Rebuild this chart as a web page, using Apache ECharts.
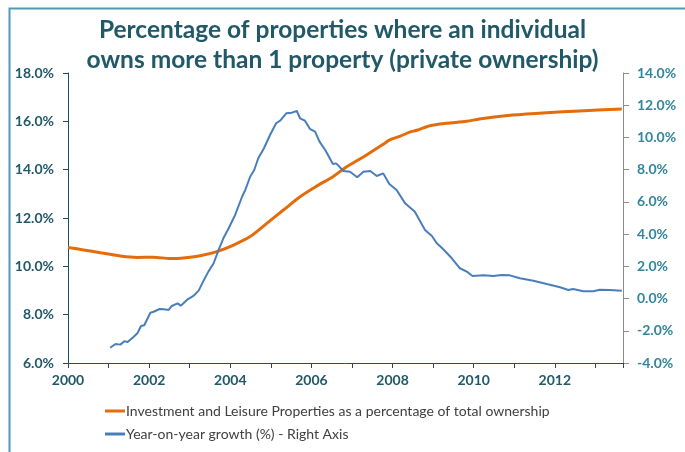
<!DOCTYPE html>
<html>
<head>
<meta charset="utf-8">
<script src="https://cdn.jsdelivr.net/npm/echarts@6/dist/echarts.min.js"></script>
<style>html,body{margin:0;padding:0;background:#fff}#c{width:685px;height:452px}</style>
</head>
<body>
<div id="c"></div>
<script>
var titleText = 'Percentage of properties where an individual\nowns more than 1 property (private ownership)';
var seriesNames = ['Investment and Leisure Properties as a percentage of total ownership', 'Year-on-year growth (%) - Right Axis'];
var leftTicks = [6, 8, 10, 12, 14, 16, 18];
var rightTicks = [-4, -2, 0, 2, 4, 6, 8, 10, 12, 14];
var yearLabels = [2000, 2002, 2004, 2006, 2008, 2010, 2012];

var orangeYears = [2000.00, 2000.38, 2000.80, 2001.29, 2001.70, 2002.10, 2002.52, 2002.90, 2003.26, 2003.67, 2004.08, 2004.49, 2004.90, 2005.31, 2005.72, 2006.13, 2006.54, 2006.79, 2006.95, 2007.36, 2007.77, 2007.93, 2008.18, 2008.42, 2008.60, 2008.92, 2009.32, 2009.83, 2010.14, 2010.96, 2011.79, 2012.61, 2013.65];
var orangeValues = [10.78, 10.68, 10.56, 10.43, 10.37, 10.38, 10.32, 10.36, 10.44, 10.61, 10.88, 11.23, 11.78, 12.33, 12.88, 13.32, 13.72, 14.03, 14.20, 14.61, 15.05, 15.23, 15.38, 15.55, 15.63, 15.82, 15.92, 16.00, 16.10, 16.26, 16.36, 16.43, 16.51];

var blueYears = [2001.04, 2001.17, 2001.29, 2001.39, 2001.47, 2001.62, 2001.71, 2001.80, 2001.88, 2002.03, 2002.11, 2002.26, 2002.37, 2002.48, 2002.56, 2002.70, 2002.78, 2002.95, 2003.09, 2003.22, 2003.34, 2003.46, 2003.59, 2003.71, 2003.83, 2003.96, 2004.12, 2004.29, 2004.37, 2004.49, 2004.59, 2004.69, 2004.83, 2004.98, 2005.13, 2005.23, 2005.38, 2005.52, 2005.64, 2005.72, 2005.84, 2005.97, 2006.09, 2006.20, 2006.34, 2006.53, 2006.61, 2006.79, 2006.95, 2007.13, 2007.28, 2007.45, 2007.61, 2007.77, 2007.92, 2008.10, 2008.31, 2008.55, 2008.80, 2008.97, 2009.09, 2009.25, 2009.46, 2009.66, 2009.83, 2009.97, 2010.24, 2010.48, 2010.69, 2010.89, 2011.14, 2011.47, 2011.80, 2012.13, 2012.33, 2012.45, 2012.70, 2012.95, 2013.11, 2013.35, 2013.65];
var blueValues = [-3.05, -2.82, -2.86, -2.65, -2.70, -2.37, -2.16, -1.70, -1.66, -0.88, -0.82, -0.65, -0.67, -0.71, -0.46, -0.30, -0.44, -0.05, 0.16, 0.49, 1.10, 1.67, 2.19, 3.01, 3.74, 4.36, 5.19, 6.32, 6.74, 7.56, 7.98, 8.71, 9.33, 10.15, 10.88, 11.04, 11.50, 11.54, 11.64, 11.19, 11.04, 10.51, 10.36, 9.74, 9.22, 8.35, 8.39, 7.92, 7.87, 7.53, 7.87, 7.92, 7.61, 7.77, 7.11, 6.74, 5.91, 5.39, 4.26, 3.88, 3.43, 3.06, 2.50, 1.88, 1.67, 1.40, 1.44, 1.40, 1.46, 1.44, 1.26, 1.11, 0.90, 0.70, 0.53, 0.59, 0.45, 0.45, 0.55, 0.53, 0.49];

function zip(a, b) { return a.map(function (v, i) { return [v, b[i]]; }); }

var chart = echarts.init(document.getElementById('c'), null, {renderer: 'canvas'});
var FONT = 'Lato';
chart.setOption({
  animation: false,
  backgroundColor: '#ffffff',
  title: {
    text: titleText,
    left: 'center',
    top: 10,
    textStyle: {fontFamily: FONT, fontSize: 24.5, fontWeight: 'bold', color: '#215968', lineHeight: 30}
  },
  graphic: [{
    type: 'rect', left: 7, top: 6, z: -1,
    shape: {width: 700, height: 460},
    style: {fill: 'none', stroke: '#4F9BB3', lineWidth: 2}
  }],
  legend: {
    orient: 'vertical',
    left: 100,
    top: 399,
    itemGap: 9,
    itemWidth: 20,
    itemHeight: 3,
    icon: 'rect',
    textStyle: {fontFamily: FONT, fontSize: 14, color: '#404040', padding: [0, 0, 0, -4]},
    data: seriesNames
  },
  grid: {left: 68, right: 62, top: 73, bottom: 89, containLabel: false},
  xAxis: {
    type: 'value',
    min: 2000,
    max: 2013.68,
    interval: 1,
    axisLine: {onZero: false, lineStyle: {color: '#1F4E5F', width: 1}},
    axisTick: {show: true, length: 5, inside: false, lineStyle: {color: '#1F4E5F'}},
    splitLine: {show: false},
    axisLabel: {
      fontFamily: FONT, fontSize: 14, fontWeight: 'bold', color: '#215968', margin: 10,
      formatter: function (v) { return yearLabels.indexOf(v) >= 0 ? String(v) : ''; }
    }
  },
  yAxis: [{
    type: 'value', min: leftTicks[0], max: leftTicks[leftTicks.length - 1], interval: 2,
    position: 'left',
    axisLine: {show: true, lineStyle: {color: '#1F4E5F'}},
    axisTick: {show: true, length: 5, lineStyle: {color: '#1F4E5F'}},
    splitLine: {show: false},
    axisLabel: {fontFamily: FONT, fontSize: 14, fontWeight: 'bold', color: '#215968', margin: 14,
      formatter: function (v) { return v.toFixed(1) + '%'; }}
  }, {
    type: 'value', min: rightTicks[0], max: rightTicks[rightTicks.length - 1], interval: 2,
    position: 'right',
    axisLine: {show: true, lineStyle: {color: '#8C8C8C'}},
    axisTick: {show: true, length: 6, lineStyle: {color: '#8C8C8C'}},
    splitLine: {show: false},
    axisLabel: {fontFamily: FONT, fontSize: 14, fontWeight: 'bold', color: '#31859C', margin: 14,
      formatter: function (v) { return v.toFixed(1) + '%'; }}
  }],
  series: [{
    name: seriesNames[0], type: 'line', yAxisIndex: 0,
    data: zip(orangeYears, orangeValues),
    showSymbol: false, smooth: 0.3,
    lineStyle: {color: '#E46C0A', width: 3},
    itemStyle: {color: '#E46C0A'}
  }, {
    name: seriesNames[1], type: 'line', yAxisIndex: 1,
    data: zip(blueYears, blueValues),
    showSymbol: false,
    lineStyle: {color: '#4A7EBB', width: 2},
    itemStyle: {color: '#4A7EBB'}
  }]
});
</script>
</body>
</html>
